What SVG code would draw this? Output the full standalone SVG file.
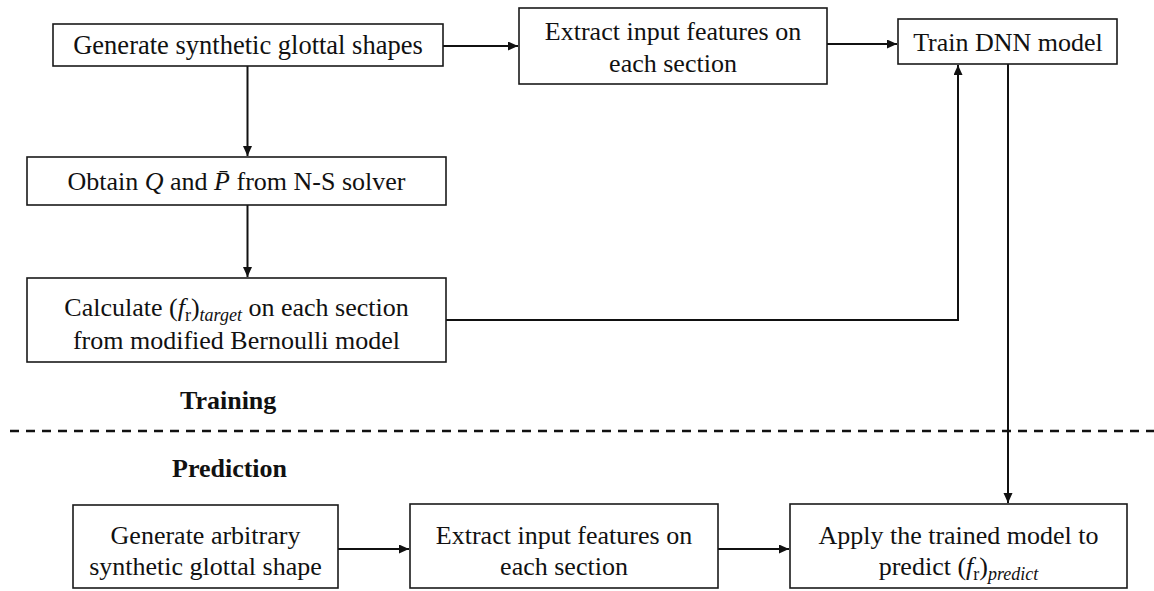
<svg xmlns="http://www.w3.org/2000/svg" width="1154" height="591" viewBox="0 0 1154 591">
  <style>
    .box { fill: #ffffff; stroke: #1a1a1a; stroke-width: 1.6; }
    .t { font-family: "Liberation Serif", "Times New Roman", serif; font-size: 26px; fill: #111; text-anchor: middle; }
    .m { font-style: italic; }
    .sub { font-size: 18px; }
    .hd { font-family: "Liberation Serif", "Times New Roman", serif; font-size: 26px; font-weight: bold; fill: #111; }
    .conn { fill: none; stroke: #111; stroke-width: 2; }
  </style>
  <defs>
    <marker id="arr" markerUnits="userSpaceOnUse" markerWidth="11" markerHeight="10" refX="10" refY="4.5" orient="auto">
      <path d="M0,0 L10,4.5 L0,9 z" fill="#111"/>
    </marker>
  </defs>
  <rect width="1154" height="591" fill="#ffffff"/>

  <g id="connectors">
    <line class="conn" x1="443" y1="46" x2="518" y2="46" marker-end="url(#arr)"/>
    <line class="conn" x1="827" y1="44" x2="897" y2="44" marker-end="url(#arr)"/>
    <line class="conn" x1="247.5" y1="66" x2="247.5" y2="156" marker-end="url(#arr)"/>
    <line class="conn" x1="247.5" y1="205" x2="247.5" y2="277" marker-end="url(#arr)"/>
    <polyline class="conn" points="446,320 958,320 958,65" marker-end="url(#arr)"/>
    <line class="conn" x1="1008" y1="64" x2="1008" y2="503" marker-end="url(#arr)"/>
    <line class="conn" x1="338" y1="549" x2="409" y2="549" marker-end="url(#arr)"/>
    <line class="conn" x1="718" y1="549" x2="789" y2="549" marker-end="url(#arr)"/>
    <line x1="10" y1="431" x2="1154" y2="431" stroke="#111" stroke-width="2.5" stroke-dasharray="9 7"/>
  </g>

  <g id="n1">
    <rect class="box" x="53" y="24" width="390" height="42"/>
    <text class="t" x="248" y="54" style="font-size:26.5px">Generate synthetic glottal shapes</text>
  </g>
  <g id="n2">
    <rect class="box" x="519" y="8" width="308" height="76"/>
    <text class="t" x="673" y="40">Extract input features on</text>
    <text class="t" x="673" y="72">each section</text>
  </g>
  <g id="n3">
    <rect class="box" x="898" y="19" width="219" height="45"/>
    <text class="t" x="1008" y="51">Train DNN model</text>
  </g>
  <g id="n4">
    <rect class="box" x="27" y="157" width="419" height="48"/>
    <text class="t" x="236.5" y="190">Obtain <tspan class="m">Q</tspan> and <tspan class="m">P&#x0304;</tspan> from N-S solver</text>
  </g>
  <g id="n5">
    <rect class="box" x="27" y="278" width="419" height="84"/>
    <text class="t" x="236.5" y="316">Calculate (<tspan class="m">f</tspan><tspan class="sub" dy="5">r</tspan><tspan dy="-5">)</tspan><tspan class="m sub" dy="5">target</tspan><tspan dy="-5"> on each section</tspan></text>
    <text class="t" x="236.5" y="349">from modified Bernoulli model</text>
  </g>

  <g id="label-training">
    <text class="hd" x="180" y="409">Training</text>
  </g>
  <g id="label-prediction">
    <text class="hd" x="172" y="477">Prediction</text>
  </g>

  <g id="n6">
    <rect class="box" x="73" y="505" width="265" height="83"/>
    <text class="t" x="205.5" y="544">Generate arbitrary</text>
    <text class="t" x="205.5" y="575">synthetic glottal shape</text>
  </g>
  <g id="n7">
    <rect class="box" x="410" y="504" width="308" height="84"/>
    <text class="t" x="564" y="544">Extract input features on</text>
    <text class="t" x="564" y="575">each section</text>
  </g>
  <g id="n8">
    <rect class="box" x="790" y="504" width="337" height="84"/>
    <text class="t" x="958.5" y="544">Apply the trained model to</text>
    <text class="t" x="958.5" y="575">predict (<tspan class="m">f</tspan><tspan class="sub" dy="5">r</tspan><tspan dy="-5">)</tspan><tspan class="m sub" dy="5">predict</tspan></text>
  </g>
</svg>
